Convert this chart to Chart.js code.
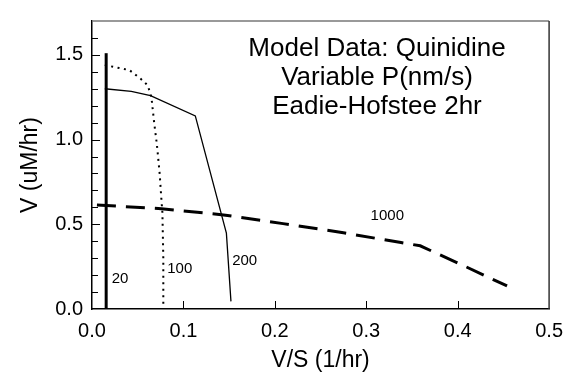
<!DOCTYPE html>
<html>
<head>
<meta charset="utf-8">
<script src="https://cdn.jsdelivr.net/npm/chart.js@4.4.1/dist/chart.umd.min.js"></script>
<style>
  html, body { margin: 0; padding: 0; background: #fff; }
  #wrap { width: 573px; height: 373px; position: relative; }
</style>
</head>
<body>
<div id="wrap"><canvas id="chart"></canvas></div>
<script>
// Eadie-Hofstee curves, one per permeability P (nm/s)
const p20X = [0.0155, 0.0155];
const p20Y = [0.0, 1.51];

const p100X = [0.014, 0.041, 0.053, 0.061, 0.065, 0.068, 0.071, 0.074, 0.076, 0.077, 0.078, 0.078];
const p100Y = [1.44, 1.41, 1.36, 1.32, 1.25, 1.10, 0.97, 0.80, 0.64, 0.57, 0.30, 0.03];

const p200X = [0.014, 0.043, 0.064, 0.113, 0.147, 0.152];
const p200Y = [1.30, 1.284, 1.259, 1.14, 0.448, 0.045];

const p1000X = [0.0054, 0.076, 0.144, 0.209, 0.275, 0.338, 0.359, 0.406, 0.454];
const p1000Y = [0.614, 0.592, 0.555, 0.504, 0.450, 0.392, 0.373, 0.257, 0.136];

const curveNames = ['20', '100', '200', '1000'];
const nameX = [0.0306, 0.096, 0.167, 0.323];
const nameY = [0.18, 0.235, 0.283, 0.55];

const titleLines = ['Model Data: Quinidine', 'Variable P(nm/s)', 'Eadie-Hofstee 2hr'];

const xTickValues = [0.1, 0.2, 0.3, 0.4];
const yMinorTicks = [0.1, 0.2, 0.3, 0.4, 0.6, 0.7, 0.8, 0.9, 1.1, 1.2, 1.3, 1.4, 1.6];
const yMajorTicks = [0.5, 1.0, 1.5];

const zip = (xs, ys) => xs.map((x, i) => ({ x: x, y: ys[i] }));
const FONT = "'Liberation Sans', Arial, sans-serif";

const decorPlugin = {
    id: 'decor',
    afterDraw(chart) {
        const ctx = chart.ctx;
        const xs = chart.scales.x;
        const ys = chart.scales.y;
        const a = chart.chartArea;
        ctx.save();

        // top / right frame
        ctx.lineWidth = 1.5;
        ctx.strokeStyle = '#777';
        ctx.beginPath();
        ctx.moveTo(a.left, a.top);
        ctx.lineTo(a.right, a.top);
        ctx.stroke();
        ctx.strokeStyle = '#333';
        ctx.beginPath();
        ctx.moveTo(a.right, a.top);
        ctx.lineTo(a.right, a.bottom);
        ctx.stroke();

        // inward tick marks
        ctx.strokeStyle = '#000';
        ctx.lineWidth = 1;
        ctx.beginPath();
        yMinorTicks.forEach(v => {
            const py = Math.round(ys.getPixelForValue(v)) + 0.5;
            ctx.moveTo(a.left, py);
            ctx.lineTo(a.left + 6, py);
        });
        yMajorTicks.forEach(v => {
            const py = Math.round(ys.getPixelForValue(v)) + 0.5;
            ctx.moveTo(a.left, py);
            ctx.lineTo(a.left + 8, py);
        });
        xTickValues.forEach(v => {
            const px = Math.round(xs.getPixelForValue(v)) + 0.5;
            ctx.moveTo(px, a.bottom);
            ctx.lineTo(px, a.bottom - 8);
        });
        ctx.stroke();

        // curve labels
        ctx.fillStyle = '#000';
        ctx.font = '15px ' + FONT;
        ctx.textAlign = 'center';
        ctx.textBaseline = 'middle';
        curveNames.forEach((n, i) => {
            ctx.fillText(n, xs.getPixelForValue(nameX[i]), ys.getPixelForValue(nameY[i]));
        });

        // annotation block
        ctx.font = '26px ' + FONT;
        titleLines.forEach((t, i) => {
            ctx.fillText(t, 377, 49 + i * 29);
        });
        ctx.restore();
    }
};

new Chart(document.getElementById('chart'), {
    type: 'scatter',
    data: {
        datasets: [
            {
                data: zip(p20X, p20Y),
                showLine: true,
                borderColor: '#000',
                borderWidth: 3,
                pointRadius: 0
            },
            {
                data: zip(p100X, p100Y),
                showLine: true,
                borderColor: '#000',
                borderWidth: 2,
                borderDash: [2, 4.5],
                pointRadius: 0
            },
            {
                data: zip(p200X, p200Y),
                showLine: true,
                borderColor: '#000',
                borderWidth: 1.3,
                pointRadius: 0
            },
            {
                data: zip(p1000X, p1000Y),
                showLine: true,
                borderColor: '#000',
                borderWidth: 3,
                borderDash: [19, 10],
                pointRadius: 0
            }
        ]
    },
    options: {
        responsive: true,
        maintainAspectRatio: false,
        animation: false,
        layout: { padding: { left: 0, right: 15, top: 15, bottom: 0 } },
        plugins: {
            legend: { display: false },
            tooltip: { enabled: false }
        },
        scales: {
            x: {
                type: 'linear',
                min: 0,
                max: 0.5,
                afterFit: s => { s.height = 64; },
                grid: { display: false, drawTicks: false },
                border: { color: '#000', width: 1.5 },
                ticks: {
                    stepSize: 0.1,
                    padding: 10,
                    color: '#000',
                    font: { family: FONT, size: 20 },
                    callback: v => v.toFixed(1)
                },
                title: {
                    display: true,
                    text: 'V/S (1/hr)',
                    color: '#000',
                    font: { family: FONT, size: 23, lineHeight: 1.1 },
                    padding: { top: 0, bottom: 0 }
                }
            },
            y: {
                type: 'linear',
                min: 0,
                max: 1.7,
                afterFit: s => { s.width = 92; },
                grid: { display: false, drawTicks: false },
                border: { color: '#000', width: 1.5 },
                ticks: {
                    stepSize: 0.5,
                    includeBounds: false,
                    padding: 9,
                    color: '#000',
                    font: { family: FONT, size: 20 },
                    callback: v => v.toFixed(1)
                },
                title: {
                    display: true,
                    text: 'V (uM/hr)',
                    color: '#000',
                    font: { family: FONT, size: 23 },
                    padding: { top: 17, bottom: 0 }
                }
            }
        }
    },
    plugins: [decorPlugin]
});
</script>
</body>
</html>
